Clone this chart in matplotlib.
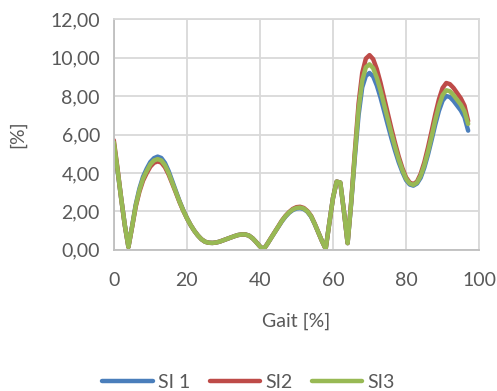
import matplotlib
matplotlib.use("Agg")
import matplotlib.pyplot as plt
from matplotlib.ticker import FuncFormatter

# Gait cycle [%]
gait = list(range(98))

si1 = [5.50, 4.15, 2.70, 1.30, 0.15, 1.22, 2.35, 3.18, 3.80, 4.22,
       4.57, 4.77, 4.85, 4.78, 4.52, 4.10, 3.58, 3.05, 2.53, 2.07,
       1.66, 1.30, 1.00, 0.75, 0.55, 0.42, 0.37, 0.36, 0.38, 0.43,
       0.50, 0.57, 0.64, 0.71, 0.77, 0.80, 0.80, 0.74, 0.60, 0.40,
       0.18, 0.03, 0.30, 0.60, 0.90, 1.19, 1.48, 1.73, 1.93, 2.07,
       2.15, 2.17, 2.12, 1.98, 1.73, 1.34, 0.90, 0.45, 0.05, 1.40,
       2.70, 3.55, 3.50, 2.00, 0.35, 2.45, 4.85, 7.00, 8.45, 9.05,
       9.20, 9.02, 8.55, 7.93, 7.22, 6.50, 5.80, 5.15, 4.55, 4.05,
       3.63, 3.40, 3.34, 3.45, 3.75, 4.28, 4.95, 5.72, 6.52, 7.23,
       7.76, 8.00, 7.95, 7.75, 7.50, 7.25, 6.90, 6.20]

si2 = [5.70, 4.25, 2.70, 1.28, 0.15, 1.18, 2.25, 3.02, 3.60, 3.99,
       4.33, 4.53, 4.60, 4.54, 4.30, 3.92, 3.45, 2.97, 2.48, 2.04,
       1.65, 1.30, 1.00, 0.75, 0.55, 0.42, 0.37, 0.36, 0.38, 0.43,
       0.50, 0.57, 0.64, 0.71, 0.77, 0.80, 0.80, 0.74, 0.60, 0.40,
       0.18, 0.03, 0.30, 0.61, 0.91, 1.21, 1.52, 1.77, 1.97, 2.13,
       2.22, 2.24, 2.18, 2.02, 1.77, 1.36, 0.90, 0.45, 0.05, 1.40,
       2.70, 3.55, 3.50, 2.00, 0.35, 2.55, 5.15, 7.60, 9.20, 9.95,
       10.13, 9.92, 9.40, 8.70, 7.90, 7.10, 6.30, 5.55, 4.85, 4.25,
       3.77, 3.50, 3.42, 3.55, 3.95, 4.55, 5.32, 6.17, 7.05, 7.83,
       8.42, 8.68, 8.62, 8.42, 8.15, 7.88, 7.50, 6.70]

si3 = [5.60, 4.20, 2.70, 1.30, 0.15, 1.20, 2.30, 3.10, 3.70, 4.10,
       4.45, 4.65, 4.72, 4.65, 4.40, 4.00, 3.50, 3.00, 2.50, 2.05,
       1.65, 1.30, 1.00, 0.75, 0.55, 0.42, 0.37, 0.36, 0.38, 0.43,
       0.50, 0.57, 0.64, 0.71, 0.77, 0.80, 0.80, 0.74, 0.60, 0.40,
       0.18, 0.03, 0.30, 0.60, 0.90, 1.20, 1.50, 1.75, 1.95, 2.10,
       2.18, 2.20, 2.15, 2.00, 1.75, 1.35, 0.90, 0.45, 0.05, 1.40,
       2.70, 3.55, 3.50, 2.00, 0.35, 2.50, 5.00, 7.30, 8.80, 9.50,
       9.65, 9.45, 8.95, 8.30, 7.55, 6.80, 6.05, 5.35, 4.70, 4.15,
       3.70, 3.45, 3.38, 3.50, 3.85, 4.40, 5.10, 5.90, 6.75, 7.50,
       8.05, 8.30, 8.25, 8.05, 7.80, 7.55, 7.20, 6.55]

series = [("SI 1", si1, "#4A7EBB"), ("SI2", si2, "#BE4B48"), ("SI3", si3, "#98B954")]

plt.rcParams['font.family'] = ['Lato', 'DejaVu Sans']
text_col = "#595959"
grid_col = "#D9D9D9"
fs = 14

fig = plt.figure(figsize=(4.97, 3.91), dpi=100)
ax = fig.add_axes([0.229, 0.361, 0.735, 0.590])

for label, vals, col in series:
    ax.plot(gait, vals, color=col, linewidth=3.2, label=label,
            solid_capstyle='round', solid_joinstyle='round')

ax.set_xlim(0, 100)
ax.set_ylim(0, 12)
ax.set_xticks(range(0, 101, 20))
ax.set_yticks(range(0, 13, 2))
ax.yaxis.set_major_formatter(FuncFormatter(lambda v, p: f"{v:.2f}".replace(".", ",")))
ax.grid(True, color=grid_col, linewidth=1.3)
ax.set_axisbelow(True)
for s in ax.spines.values():
    s.set_color(grid_col)
    s.set_linewidth(1.3)
ax.spines['left'].set_color("#BFBFBF")
ax.spines['bottom'].set_color("#BFBFBF")
ax.tick_params(length=0, labelsize=fs, colors=text_col, pad=10)
ax.tick_params(axis='x', pad=16)

ax.set_xlabel("Gait [%]", fontsize=fs, color=text_col, labelpad=17)
ax.set_ylabel("[%]", fontsize=fs, color=text_col, labelpad=17)

fig.legend(loc='lower center', bbox_to_anchor=(0.5, -0.045), ncol=3, frameon=False,
           fontsize=fs, handlelength=2.6, columnspacing=1.0, handletextpad=0.25,
           labelcolor=text_col)

fig.savefig("out.png", dpi=100)
